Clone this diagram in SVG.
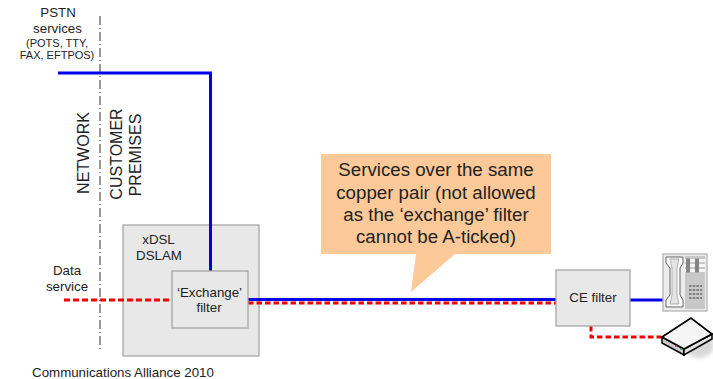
<svg xmlns="http://www.w3.org/2000/svg" width="713" height="379" viewBox="0 0 713 379">
<defs>
<filter id="soft" x="-30%" y="-30%" width="160%" height="160%"><feGaussianBlur stdDeviation="2"/></filter>
</defs>
<style>
text{font-family:"Liberation Sans",Arial,sans-serif;fill:#222;text-anchor:middle}
.box{fill:#e8e8e8;stroke:#a6a6a6;stroke-width:1.3}
.blue{fill:none;stroke:#0000e6;stroke-width:3}
.red{fill:none;stroke:#f00000;stroke-width:3;stroke-dasharray:6 3}
.t13{font-size:13.300px}.t11{font-size:11px}.t15{font-size:16px}.t18{font-size:18.700px}
</style>
<rect width="713" height="379" fill="#fff"/>
<g id="boundary"><path d="M100 16V350" fill="none" stroke="#333" stroke-width="1" stroke-dasharray="9 3 1 3"/></g>
<g id="labels">
<text x="58" y="17" class="t13">PSTN</text>
<text x="57.500" y="33" class="t13">services</text>
<text x="57" y="47" class="t11">(POTS, TTY,</text>
<text x="57" y="59" class="t11">FAX, EFTPOS)</text>
<text transform="translate(88.500 153) rotate(-90)" class="t15">NETWORK</text>
<text transform="translate(122 154) rotate(-90)" class="t15">CUSTOMER</text>
<text transform="translate(141 155) rotate(-90)" class="t15">PREMISES</text>
<text x="67" y="275" class="t13">Data</text>
<text x="67" y="291" class="t13">service</text>
<text x="123" y="377" class="t13">Communications Alliance 2010</text>
</g>
<g id="dslam"><rect class="box" x="123" y="225" width="136" height="131"/><text x="158.500" y="244" class="t13">xDSL</text><text x="159" y="260" class="t13">DSLAM</text></g>
<g id="connectors">
<path class="blue" d="M58 73H210.500V271"/>
<path class="blue" d="M248 299.500H556"/>
<path class="blue" d="M630 300H664"/>
<path class="red" d="M64 300H172"/>
<path class="red" d="M248 303H556" style="stroke-dasharray:5.500 3"/>
<path class="red" d="M591 326V337H661" style="stroke-dasharray:5.500 3"/>
</g>
<g id="exchange-filter"><rect class="box" x="172" y="271" width="76" height="57"/><text x="209.500" y="297" class="t13">‘Exchange’</text><text x="209" y="312" class="t13">filter</text></g>
<g id="ce-filter"><rect class="box" x="556" y="270" width="74" height="56"/><text x="593" y="302" class="t13">CE filter</text></g>
<g id="callout"><path d="M321 154H551V254H455L411 292L416 254H321Z" fill="#fdc998"/>
<g class="t18"><text x="436" y="176">Services over the same</text><text x="436" y="198.500">copper pair (not allowed</text><text x="436" y="221">as the ‘exchange’ filter</text><text x="436" y="243">cannot be A-ticked)</text></g></g>
<g id="phone"><rect x="663" y="254" width="44" height="57" fill="#ececec" stroke="#b5b5b5" stroke-width="1.300"/>
<path d="M666 257H683V263L680 268V295L683 300V307H666V300L670 295V268L666 263Z" fill="#fafafa" stroke="#666"/>
<path d="M670 259H679L677 268V295L679 304H670L672 295V268Z" fill="#e4e4e4" stroke="#999" stroke-width=".7"/>
<rect x="685" y="256" width="20" height="53" fill="#c8c8c8"/>
<g fill="#f6f6f6"><rect x="685" y="259" width="20" height="3"/><rect x="685" y="264" width="20" height="3"/><rect x="685" y="269" width="20" height="3"/></g>
<g fill="#858585"><rect x="686" y="258.500" width="4" height="14"/><rect x="695" y="258.500" width="4" height="14"/></g>
<path d="M689 286H702M689 290H702M689 294H702M689 298H702" stroke="#808080" stroke-width="2.200" stroke-dasharray="2.500 1.200"/></g>
<g id="modem"><ellipse cx="699" cy="345" rx="15" ry="13" fill="#d8d8d8" filter="url(#soft)"/>
<path d="M662 337L684 349V355L662 343Z" fill="#c9c9d0" stroke="#000" stroke-width="1.500"/>
<path d="M684 349L712 334V339L684 355Z" fill="#e2e2e2" stroke="#000" stroke-width="1.500"/>
<path d="M662 337L691 318L712 334L684 349Z" fill="#f5f5f5" stroke="#000" stroke-width="1.800"/>
<circle cx="676" cy="346" r="1" fill="#b04070"/><circle cx="681" cy="349" r="1" fill="#40a060"/></g>
</svg>
